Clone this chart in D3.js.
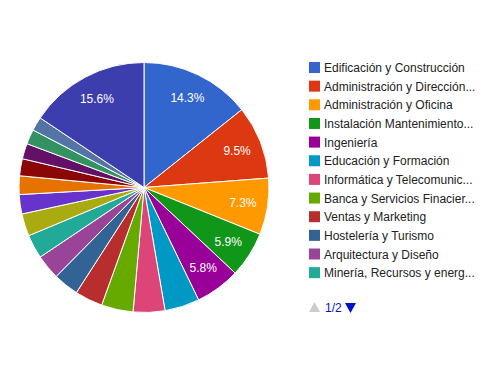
<!DOCTYPE html>
<html>
<head>
<meta charset="utf-8">
<script src="https://cdn.jsdelivr.net/npm/d3@7"></script>
<style>
  body { margin: 0; background: #fff; }
  text { font-family: Arial, "Liberation Sans", sans-serif; }
</style>
</head>
<body>
<div id="chart"></div>
<script>
// categorías y porcentajes
const categories = [
  "Edificación y Construcción",
  "Administración y Dirección de Empresas",
  "Administración y Oficina",
  "Instalación Mantenimiento y Reparación",
  "Ingeniería",
  "Educación y Formación",
  "Informática y Telecomunicaciones",
  "Banca y Servicios Finacieros",
  "Ventas y Marketing",
  "Hostelería y Turismo",
  "Arquitectura y Diseño",
  "Minería, Recursos y energías",
  "Sanidad y Salud",
  "Logística y Transporte",
  "Atención al Cliente",
  "Industria y Producción",
  "Recursos Humanos",
  "Comercio y Venta",
  "Agricultura y Ganadería",
  "Otros"
];
const values = [14.3, 9.5, 7.3, 5.9, 5.8, 4.5, 4.1, 4.1, 3.6, 3.3, 3.2, 3.1, 2.9, 2.5, 2.4, 2.2, 2.0, 1.9, 1.8, 15.6];
const colors = ["#3366cc", "#dc3912", "#ff9900", "#109618", "#990099", "#0099c6", "#dd4477", "#66aa00",
  "#b82e2e", "#316395", "#994499", "#22aa99", "#aaaa11", "#6633cc", "#e67300", "#8b0707",
  "#651067", "#329262", "#5574a6", "#3b3eac"];
const legendRows = 12;

const width = 499, height = 373;
const cx = 144, cy = 187.5, radius = 125;

const data = categories.map((c, i) => ({ name: c, value: values[i] }));
const total = d3.sum(values);

const color = d3.scaleOrdinal().domain(categories).range(colors);

const svg = d3.select("#chart").append("svg")
  .attr("width", width)
  .attr("height", height);

// tarta
const pie = d3.pie().sort(null).value(d => d.value);
const arc = d3.arc().innerRadius(0).outerRadius(radius);
const labelArc = d3.arc().innerRadius(radius * 0.8).outerRadius(radius * 0.8);

const g = svg.append("g").attr("transform", `translate(${cx},${cy})`);
const arcs = pie(data);

g.selectAll("path")
  .data(arcs)
  .enter()
  .append("path")
  .attr("d", arc)
  .attr("fill", d => color(d.data.name))
  .attr("stroke", "#fff")
  .attr("stroke-width", 1);

const fmt = d3.format(".1%");
g.selectAll("text")
  .data(arcs.filter(d => d.data.value / total >= 0.05))
  .enter()
  .append("text")
  .attr("transform", d => `translate(${labelArc.centroid(d)})`)
  .attr("text-anchor", "middle")
  .attr("dy", "0.35em")
  .attr("fill", "#fff")
  .style("font-size", "12px")
  .text(d => fmt(d.data.value / total));

// leyenda
const lx = 309, ly = 62, rowH = 18.65, maxW = 152;
const legend = svg.append("g");
data.slice(0, legendRows).forEach((d, i) => {
  const row = legend.append("g").attr("transform", `translate(${lx},${ly + i * rowH})`);
  row.append("rect")
    .attr("width", 11).attr("height", 11)
    .attr("fill", color(d.name));
  const t = row.append("text")
    .attr("x", 15).attr("y", 10)
    .attr("fill", "#222")
    .style("font-size", "12px")
    .text(d.name);
  // recortar con "..."
  let s = d.name;
  if (t.node().getComputedTextLength() > maxW) {
    while (s.length > 0) {
      s = s.slice(0, -1);
      t.text(s.trimEnd() + "...");
      if (t.node().getComputedTextLength() <= maxW) break;
    }
  }
});

// paginación
const py = 302;
legend.append("path")
  .attr("d", `M${lx},${py + 10} L${lx + 11},${py + 10} L${lx + 5.5},${py} Z`)
  .attr("fill", "#cccccc");
legend.append("text")
  .attr("x", lx + 16).attr("y", py + 10)
  .attr("fill", "#0011cc")
  .style("font-size", "12px")
  .text("1/2");
legend.append("path")
  .attr("d", `M${lx + 36},${py + 1} L${lx + 47},${py + 1} L${lx + 41.5},${py + 11} Z`)
  .attr("fill", "#0011cc");
</script>
</body>
</html>
